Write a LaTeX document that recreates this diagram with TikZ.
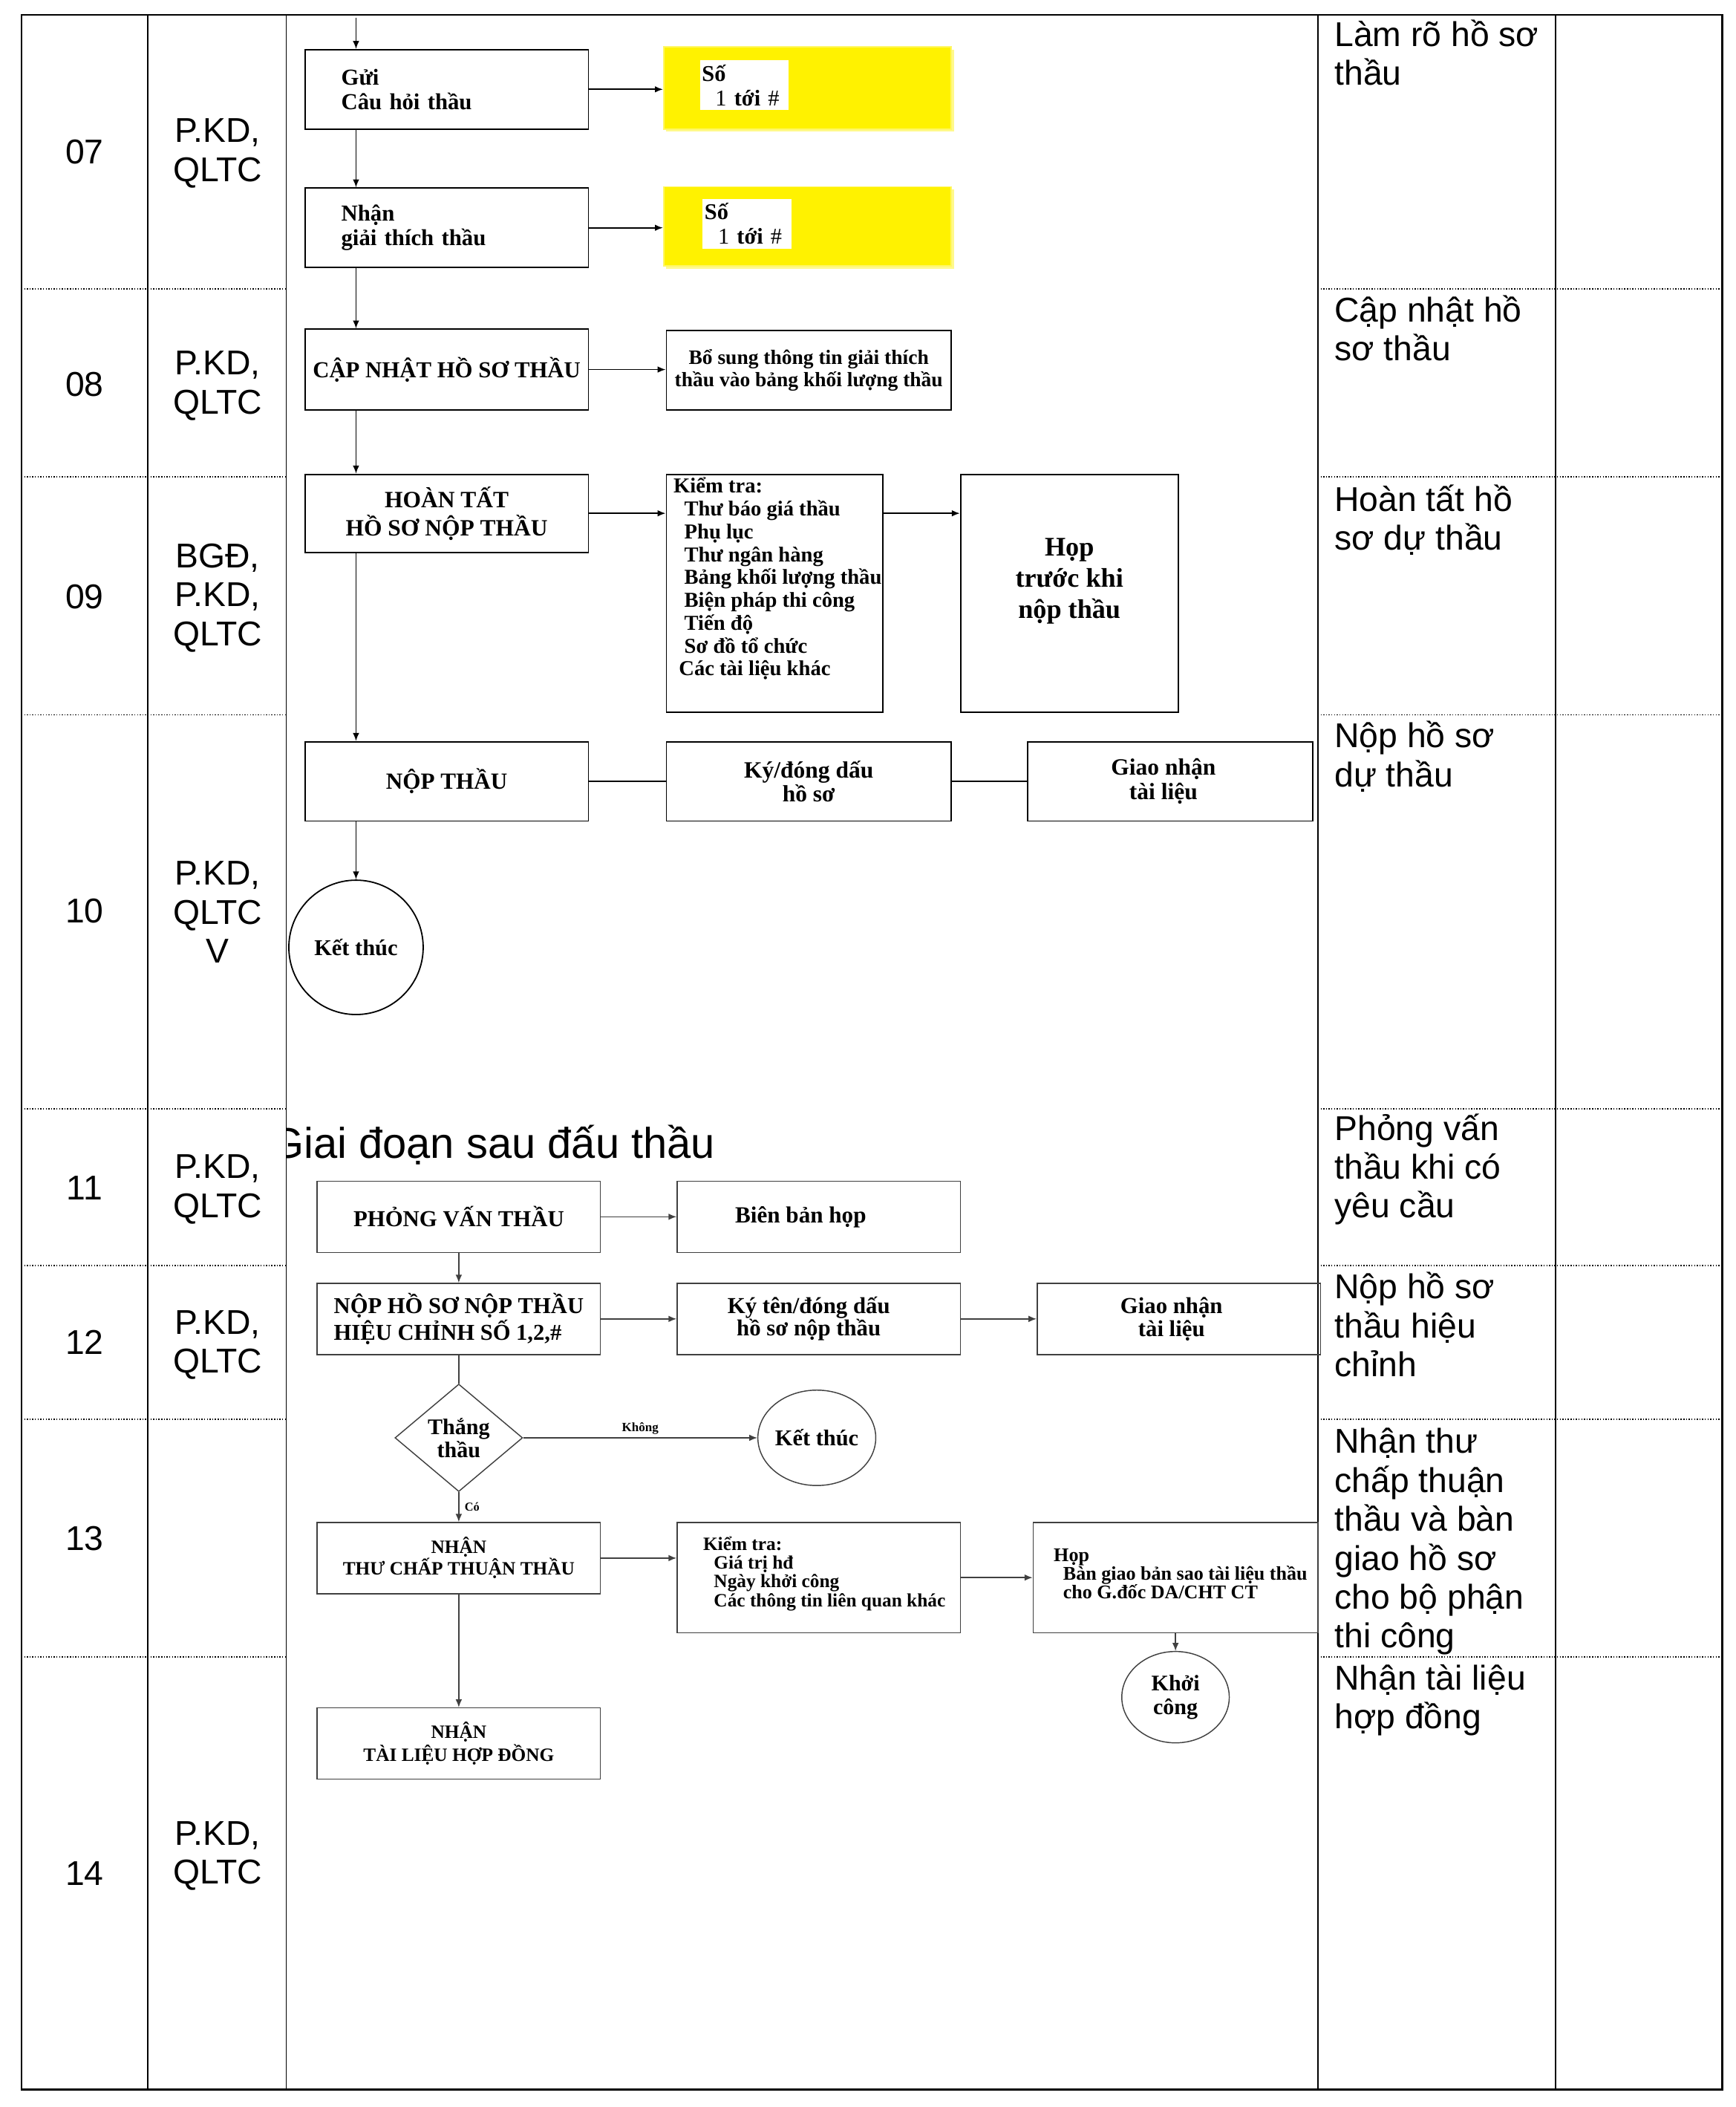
\documentclass[tikz,border=0pt]{standalone}
\usepackage{fontspec}
\setmainfont{Liberation Serif}
\newfontfamily\arialf{Liberation Sans}
\usetikzlibrary{arrows.meta,shapes.geometric,shadows}
\newcommand{\mystrut}{\rule{0pt}{12.5pt}}
\begin{document}
\begin{tikzpicture}[x=0.5pt,y=-0.5pt,
  fz/.style 2 args={font=\bfseries\fontsize{#1}{#2}\selectfont},
  ub/.style={draw, line width=0.5pt, rectangle, inner sep=0pt, align=center, fz={8.5}{9}},
  lb/.style={draw=black!75, line width=0.4pt, rectangle, inner sep=0pt, align=center, fz={8.5}{8.5}},
  yel/.style={fill=yellow, draw=yellow!60, line width=0.5pt, rectangle, inner sep=0pt,
     drop shadow={shadow xshift=1pt, shadow yshift=-1pt, fill=yellow!45, opacity=1}},
  wbox/.style={fill=white, rectangle, inner sep=0pt, align=left, fz={8.4}{9}},
  txt/.style={inner sep=0pt, align=left},
  arr/.style={-{Latex[length=3pt,width=2.4pt]}, line width=0.5pt},
  uline/.style={line width=0.5pt},
  larr/.style={-{Latex[length=3pt,width=2.4pt]}, line width=0.4pt, draw=black!75},
  lline/.style={line width=0.4pt, draw=black!75},
  tcell/.style={font=\arialf\fontsize{12.8}{14.5}\selectfont, align=center, inner sep=0pt},
  tnote/.style={font=\arialf\fontsize{12.8}{14.5}\selectfont, align=left, anchor=north west, inner sep=0pt},
  sep/.style={line width=0.5pt, dash pattern=on 0.4pt off 0.6pt}
]
\useasboundingbox (0,0) rectangle (1292,1568);

% ---------- table ----------
\draw[line width=0.7pt] (16,11) rectangle (1282,1555);
\foreach \x in {110,213,981,1158} \draw[line width=0.45pt] (\x,11) -- (\x,1555);
\foreach \y in {215,355,532,825,942,1056,1233} {
  \draw[sep] (16,\y) -- (213,\y);
  \draw[sep] (981,\y) -- (1282,\y);
}

% column 1 and 2
\node[tcell] (n07) at (63,113) {07};
\node[tcell] (r07) at (162,114) {P.KD,\\QLTC};
\node[tcell] (n08) at (63,286) {08};
\node[tcell] (r08) at (162,287) {P.KD,\\QLTC};
\node[tcell] (n09) at (63,444) {09};
\node[tcell] (r09) at (162,445) {BGĐ,\\P.KD,\\QLTC};
\node[tcell] (n10) at (63,678) {10};
\node[tcell] (r10) at (162,679) {P.KD,\\QLTC\\V};
\node[tcell] (n11) at (63,884) {11};
\node[tcell] (r11) at (162,885) {P.KD,\\QLTC};
\node[tcell] (n12) at (63,999) {12};
\node[tcell] (r12) at (162,1001) {P.KD,\\QLTC};
\node[tcell] (n13) at (63,1145) {13};
\node[tcell] (n14) at (63,1394) {14};
\node[tcell] (r14) at (162,1381) {P.KD,\\QLTC};

% column 4
\node[tnote] (c07) at (993,9) {\mystrut Làm rõ hồ sơ\\thầu};
\node[tnote] (c08) at (993,214) {\mystrut Cập nhật hồ\\sơ thầu};
\node[tnote] (c09) at (993,355) {\mystrut Hoàn tất hồ\\sơ dự thầu};
\node[tnote] (c10) at (993,531) {\mystrut Nộp hồ sơ\\dự thầu};
\node[tnote] (c11) at (993,823) {\mystrut Phỏng vấn\\thầu khi có\\yêu cầu};
\node[tnote] (c12) at (993,941) {\mystrut Nộp hồ sơ\\thầu hiệu\\chỉnh};
\node[tnote] (c13) at (993,1056) {\mystrut Nhận thư\\chấp thuận\\thầu và bàn\\giao hồ sơ\\cho bộ phận\\thi công};
\node[tnote] (c14) at (993,1232) {\mystrut Nhận tài liệu\\hợp đồng};

% title (clipped by the column)
\begin{scope}
  \clip (213,11) rectangle (981,1555);
  \node[anchor=west, inner sep=0pt, font=\arialf\fontsize{16}{18}\selectfont] (title) at (201,852) {Giai đoạn sau đấu thầu};
\end{scope}

% ---------- upper flowchart ----------
\coordinate (top) at (265,13);
\node[ub, minimum width=105.5pt, minimum height=29.5pt, text width=78.5pt, align=left] (A) at (332.5,66.5) {Gửi\\Câu hỏi thầu};
\node[yel, minimum width=107pt, minimum height=30.5pt] (Y1) at (601,65.5) {};
\node[wbox, minimum width=33pt, minimum height=18.5pt, text width=31.5pt] (Y1t) at (554,63.5) {Số\\\hspace*{5pt}{\mdseries 1} tới {\mdseries\#}};

\node[ub, minimum width=105.5pt, minimum height=29.5pt, text width=78.5pt, align=left] (B) at (332.5,169.5) {Nhận\\giải thích thầu};
\node[yel, minimum width=107pt, minimum height=29.5pt] (Y2) at (601,168.5) {};
\node[wbox, minimum width=33pt, minimum height=18.5pt, text width=31.5pt] (Y2t) at (556,166.5) {Số\\\hspace*{5pt}{\mdseries 1} tới {\mdseries\#}};

\node[ub, minimum width=105.5pt, minimum height=30pt] (C) at (332.5,275) {CẬP NHẬT HỒ SƠ THẦU};
\node[ub, fz={7.6}{8.5}, minimum width=106pt, minimum height=29.5pt] (C2) at (602,275.5) {Bổ sung thông tin giải thích\\thầu vào bảng khối lượng thầu};

\node[ub, fz={8.7}{10.5}, minimum width=105.5pt, minimum height=29pt] (D) at (332.5,382) {HOÀN TẤT\\HỒ SƠ NỘP THẦU};
\node[ub, minimum width=80.5pt, minimum height=88.5pt] (D2) at (576.5,441.5) {};
\node[txt, fz={7.9}{8.5}, anchor=north west] (D2t) at (501,355) {Kiểm tra:\\\hspace*{4pt}Thư báo giá thầu\\\hspace*{4pt}Phụ lục\\\hspace*{4pt}Thư ngân hàng\\\hspace*{4pt}Bảng khối lượng thầu\\\hspace*{4pt}Biện pháp thi công\\\hspace*{4pt}Tiến độ\\\hspace*{4pt}Sơ đồ tổ chức\\\hspace*{2pt}Các tài liệu khác};
\node[ub, minimum width=81pt, minimum height=88.5pt] (D3) at (796,441.5) {};
\node[txt, fz={10}{11.7}, align=center] (D3t) at (796,432.5) {Họp\\trước khi\\nộp thầu};

\node[ub, fz={8.6}{9}, minimum width=105.5pt, minimum height=29.5pt] (E) at (332.5,581.5) {NỘP THẦU};
\node[ub, fz={8.7}{9}, minimum width=106pt, minimum height=29.5pt] (E2) at (602,581.5) {Ký/đóng dấu\\hồ sơ};
\node[ub, fz={8.7}{9}, minimum width=106pt, minimum height=29.5pt] (E3) at (871,581.5) {Giao nhận\hspace*{5pt}\\tài liệu\hspace*{5pt}};
\node[ub, fz={8.4}{9}, circle, minimum size=50pt] (K1) at (265,705) {Kết thúc};

\draw[arr] (top) -- (top |- A.north);
\draw[arr] (A.east) -- (A.east -| Y1.west);
\draw[arr] (top |- A.south) -- (top |- B.north);
\draw[arr] (B.east) -- (B.east -| Y2.west);
\draw[arr] (top |- B.south) -- (top |- C.north);
\draw[arr] (C.east) -- (C.east -| C2.west);
\draw[arr] (top |- C.south) -- (top |- D.north);
\draw[arr] (D.east) -- (D.east -| D2.west);
\draw[arr] (D.east -| D2.east) -- (D.east -| D3.west);
\draw[arr] (top |- D.south) -- (top |- E.north);
\draw[uline] (E.east) -- (E.east -| E2.west);
\draw[uline] (E2.east) -- (E2.east -| E3.west);
\draw[arr] (top |- E.south) -- (K1.north);

% ---------- lower flowchart ----------
\node[lb, minimum width=105.5pt, minimum height=26.5pt] (F) at (341.5,905.5) {PHỎNG VẤN THẦU};
\node[lb, fz={8.6}{9}, minimum width=105.5pt, minimum height=26.5pt] (F2) at (609.5,905.5) {Biên bản họp\hspace*{13.5pt}};
\node[lb, fz={8.45}{10}, align=left, minimum width=105.5pt, minimum height=26.5pt] (G) at (341.5,981.5) {NỘP HỒ SƠ NỘP THẦU\\HIỆU CHỈNH SỐ 1,2,\#};
\node[lb, fz={8.5}{8.3}, minimum width=105.5pt, minimum height=26.5pt] (G2) at (609.5,981.5) {Ký tên/đóng dấu\hspace*{7.5pt}\\hồ sơ nộp thầu\hspace*{7.5pt}};
\node[lb, fz={8.5}{8.5}, minimum width=105.5pt, minimum height=26.5pt] (G3) at (877.5,981.5) {Giao nhận\hspace*{5.5pt}\\tài liệu\hspace*{5.5pt}};
\node[lb, fz={8.3}{8.5}, diamond, aspect=1.19, minimum width=47.5pt, minimum height=40pt] (Dia) at (341.5,1070) {Thắng\\thầu};
\node[lb, fz={8.4}{9}, ellipse, minimum width=42.5pt, minimum height=35.5pt] (K2) at (608,1070) {Kết thúc};
\node[lb, fz={7}{8}, minimum width=105.5pt, minimum height=26.5pt] (H) at (341.5,1159.5) {NHẬN\\THƯ CHẤP THUẬN THẦU};
\node[lb, minimum width=105.5pt, minimum height=41pt] (H2) at (609.5,1174) {};
\node[txt, fz={7}{7}, anchor=north west] (H2t) at (523,1143) {Kiểm tra:\\\hspace*{4pt}Giá trị hđ\\\hspace*{4pt}Ngày khởi công\\\hspace*{4pt}Các thông tin liên quan khác};
\node[lb, minimum width=106pt, minimum height=41pt] (H3) at (875,1174) {};
\node[txt, fz={7.2}{7}, anchor=north west] (H3t) at (784,1152) {Họp\\\hspace*{3.5pt}Bàn giao bản sao tài liệu thầu\\\hspace*{3.5pt}cho G.đốc DA/CHT CT};
\node[lb, fz={8.3}{9}, ellipse, minimum width=40pt, minimum height=34pt] (Kc) at (875,1263) {Khởi\\công};
\node[lb, fz={7}{8.5}, minimum width=105.5pt, minimum height=26.5pt] (I) at (341.5,1297.5) {NHẬN\\TÀI LIỆU HỢP ĐỒNG};

\draw[larr] (F.east) -- (F.east -| F2.west);
\draw[larr] (F.south) -- (G.north);
\draw[larr] (G.east) -- (G.east -| G2.west);
\draw[larr] (G2.east) -- (G2.east -| G3.west);
\draw[lline] (G.south) -- (Dia.north);
\draw[larr] (Dia.east) -- node[above=1pt, inner sep=0pt, fz={4.7}{5}] (lk) {Không} (K2.west);
\draw[larr] (Dia.south) -- node[right=2pt, inner sep=0pt, fz={4.5}{5}] (lc) {Có} (H.north);
\draw[larr] (H.east) -- (H.east -| H2.west);
\draw[larr] (H2.east) -- (H2.east -| H3.west);
\draw[larr] (H3.south) -- (Kc.north);
\draw[larr] (H.south) -- (I.north);
\end{tikzpicture}
\end{document}
